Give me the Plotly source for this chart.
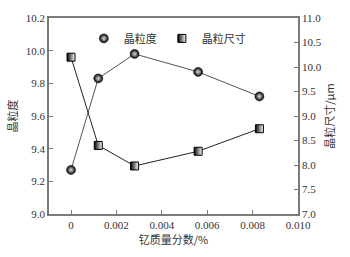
import plotly.graph_objects as go

yttrium = [0.0, 0.0012, 0.0028, 0.0056, 0.0083]
grain_grade = [9.27, 9.83, 9.98, 9.87, 9.72]
grain_size = [10.2, 8.4, 7.98, 8.28, 8.74]

x_ticks = [0, 0.002, 0.004, 0.006, 0.008, 0.010]
x_labels = ["0", "0.002", "0.004", "0.006", "0.008", "0.010"]
left_ticks = [9.0, 9.2, 9.4, 9.6, 9.8, 10.0, 10.2]
right_ticks = [7.0, 7.5, 8.0, 8.5, 9.0, 9.5, 10.0, 10.5, 11.0]

serif = "Liberation Serif, Times New Roman, serif"
cjk = "Noto Sans CJK SC"
axis_col = "#7a7a7a"

circle_marker = dict(symbol="circle", size=9, color="#000000",
                     gradient=dict(type="radial", color="#e0e0e0"),
                     line=dict(color="#000000", width=0.5))
square_marker = dict(symbol="square", size=8, color="#000000",
                     gradient=dict(type="horizontal", color="#ffffff"),
                     line=dict(color="#000000", width=1))

fig = go.Figure()
fig.add_trace(go.Scatter(
    x=yttrium, y=grain_grade, name="晶粒度", mode="lines+markers", showlegend=False,
    line=dict(color="#555555", width=1), marker=circle_marker,
))
fig.add_trace(go.Scatter(
    x=yttrium, y=grain_size, name="晶粒尺寸", mode="lines+markers", yaxis="y2", showlegend=False,
    line=dict(color="#222222", width=1), marker=square_marker,
))
fig.add_trace(go.Scatter(x=[None], y=[None], name="晶粒度", mode="markers", marker=circle_marker))
fig.add_trace(go.Scatter(x=[None], y=[None], name="晶粒尺寸", mode="markers", marker=square_marker))

fig.update_layout(
    width=350, height=257,
    margin=dict(l=49, r=52, t=14, b=43),
    paper_bgcolor="white", plot_bgcolor="white",
    font=dict(family=serif, size=11, color="#333333"),
    showlegend=True,
    legend=dict(orientation="h", x=0.14, y=0.97, xanchor="left", yanchor="top",
                bgcolor="rgba(0,0,0,0)", font=dict(family=cjk, size=11, color="#333333"),
                itemwidth=30, tracegroupgap=0, traceorder="normal"),
    xaxis=dict(range=[-0.00097, 0.010], tickvals=x_ticks, ticktext=x_labels,
               ticks="inside", ticklen=4, tickcolor=axis_col, showgrid=False,
               showline=True, linecolor=axis_col, linewidth=1.5, mirror=True,
               zeroline=False,
               title=dict(text="钇质量分数/%", font=dict(family=cjk, size=11), standoff=5)),
    yaxis=dict(range=[9.0, 10.2], tickvals=left_ticks, tickformat=".1f",
               ticks="inside", ticklen=4, tickcolor=axis_col, showgrid=False,
               showline=True, linecolor=axis_col, linewidth=1.5, zeroline=False,
               title=dict(text="晶粒度", font=dict(family=cjk, size=11), standoff=6)),
    yaxis2=dict(range=[7.0, 11.0], tickvals=right_ticks, tickformat=".1f",
                overlaying="y", side="right",
                ticks="inside", ticklen=4, tickcolor=axis_col, showgrid=False,
                showline=True, linecolor=axis_col, linewidth=1.5, zeroline=False,
                title=dict(text="晶粒尺寸/μm", font=dict(family=cjk, size=11), standoff=6)),
)

fig.write_html("out.html")
